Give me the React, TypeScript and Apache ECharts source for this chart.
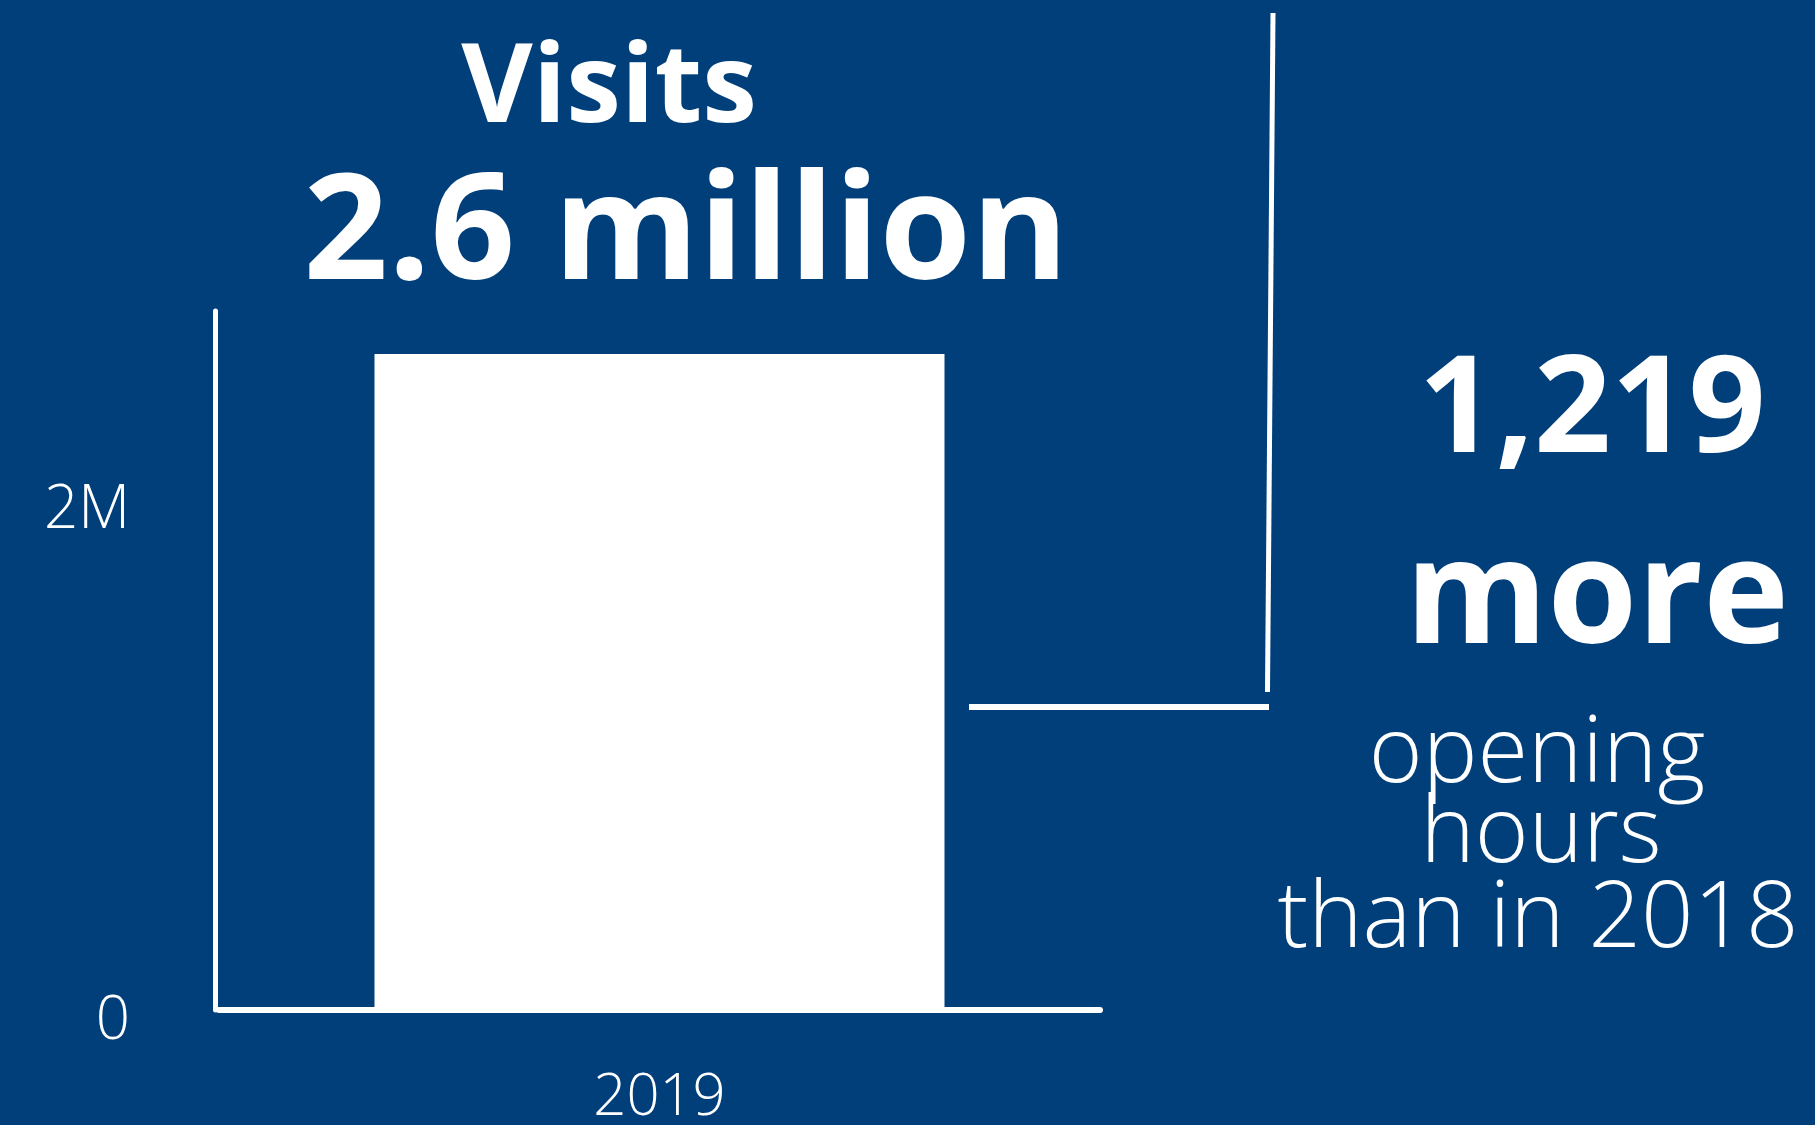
import React, { useEffect, useRef } from "react";
import * as echarts from "echarts";

const categories = ["2019"];
const visits = [2600000];
const yMax = 2770000;
const yInterval = 2000000;
const headline = "Visits";
const headlineValue = "2.6 million";
const sideNumber = "1,219";
const sideWord = "more";
const sideLines = ["opening", "hours", "than in 2018"];

const BG = "#013f7b";
const FG = "#ffffff";
const FONT = "Open Sans";

export default function App() {
  const ref = useRef<HTMLDivElement>(null);
  useEffect(() => {
    document.body.style.margin = "0";
    document.body.style.background = BG;
    const chart = echarts.init(ref.current!, null, { renderer: "svg" });
    const makeText = (
      text: string,
      x: number,
      y: number,
      size: number,
      weight: number,
      lh: number
    ) => ({
      type: "text",
      x,
      y,
      style: {
        text,
        fill: FG,
        fontFamily: FONT,
        fontSize: size,
        fontWeight: weight,
        lineHeight: lh,
        textAlign: "center",
        textVerticalAlign: "middle",
      },
    });
    chart.setOption({
      animation: false,
      backgroundColor: BG,
      grid: { left: 219, right: 715, top: 311, bottom: 115 },
      xAxis: {
        type: "category",
        data: categories,
        axisLine: { lineStyle: { color: FG, width: 6 } },
        axisTick: { show: false },
        axisLabel: {
          color: FG,
          fontSize: 58,
          lineHeight: 46,
          fontFamily: FONT,
          fontWeight: 300,
          margin: 59,
        },
      },
      yAxis: {
        type: "value",
        min: 0,
        max: yMax,
        interval: yInterval,
        offset: 3.5,
        splitLine: { show: false },
        axisTick: { show: false },
        axisLine: { show: true, lineStyle: { color: FG, width: 5 } },
        axisLabel: {
          color: FG,
          fontSize: 60,
          fontFamily: FONT,
          fontWeight: 300,
          margin: 85.5,
          showMaxLabel: false,
          formatter: (v: number) => (v === 0 ? "{z|0}" : v / 1e6 + "M"),
          rich: {
            z: {
              color: FG,
              fontSize: 60,
              fontFamily: FONT,
              fontWeight: 300,
              padding: [12, 0, 0, 0],
            },
          },
        },
      },
      series: [
        {
          type: "bar",
          data: visits,
          barWidth: 570,
          itemStyle: { color: FG },
        },
      ],
      graphic: [
        makeText(headline, 609, 79, 110, 700, 100),
        makeText(headlineValue, 686, 221, 148, 700, 130),
        makeText(sideNumber, 1592, 400, 135, 700, 130),
        makeText(sideWord, 1597, 586, 145, 700, 130),
        makeText(sideLines[0], 1537, 746, 92, 300, 76),
        makeText(sideLines[1], 1541, 826, 92, 300, 76),
        makeText(sideLines[2], 1538, 911, 92, 300, 76),
        {
          type: "line",
          shape: { x1: 1273, y1: 13, x2: 1267.5, y2: 692 },
          style: { stroke: FG, lineWidth: 5 },
        },
        {
          type: "line",
          shape: { x1: 969, y1: 707, x2: 1269, y2: 707 },
          style: { stroke: FG, lineWidth: 6 },
        },
      ],
    });
    return () => chart.dispose();
  }, []);
  return (
    <div
      ref={ref}
      style={{ position: "absolute", left: 0, top: 0, width: 1815, height: 1125 }}
    />
  );
}
